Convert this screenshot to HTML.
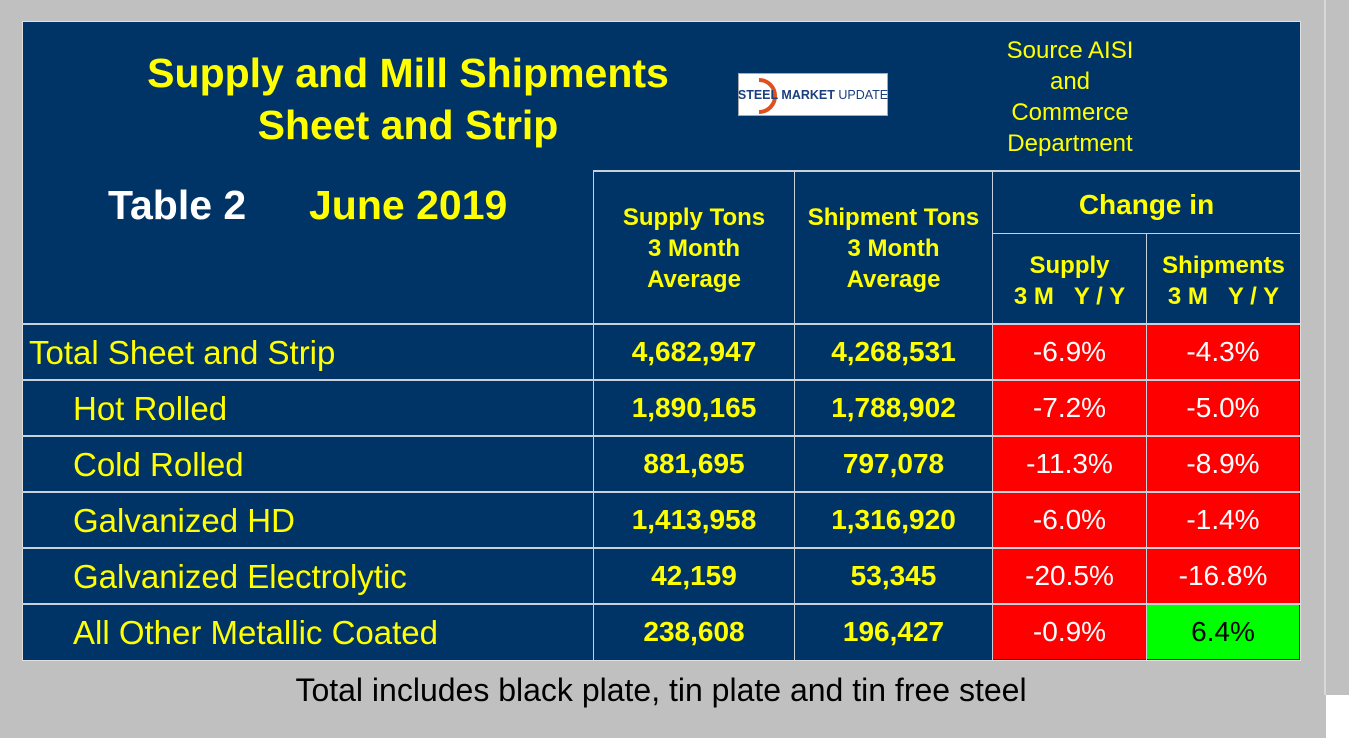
<!DOCTYPE html>
<html><head><meta charset="utf-8"><style>
body{margin:0;width:1349px;height:738px;background:#c0c0c0;position:relative;overflow:hidden;font-family:"Liberation Sans",Arial,sans-serif}
div{position:absolute;box-sizing:border-box}
.c{display:flex;align-items:center;justify-content:center;text-align:center}
.y{color:#ffff00}
.b{font-weight:bold}
.ln{background:#c8d0dc}
</style></head><body>
<div style="left:1326px;top:695px;width:23px;height:43px;background:#fff"></div>
<div style="left:1324px;top:0;width:2px;height:695px;background:#d8d8d8"></div>
<div style="left:22px;top:21px;width:1279px;height:640px;background:#003366;border:1px solid #e0e0e0"></div>
<div class="y b c" style="left:80px;top:47px;width:656px;height:104px;font-size:41px;line-height:52px;white-space:nowrap">Supply and Mill Shipments<br>Sheet and Strip</div>
<div style="left:738px;top:73px;width:150px;height:43px;background:#fff;border:1px solid #aaa">
 <svg width="150" height="43" style="position:absolute;left:0;top:0"><path d="M20 6 A16 16 0 1 1 20 38" fill="none" stroke="#e0501c" stroke-width="4"/></svg>
 <div class="c" style="left:0;top:0;width:148px;height:41px;font-size:12.5px;color:#1c3f7f;white-space:nowrap"><b>STEEL MARKET</b>&nbsp;UPDATE</div>
</div>
<div class="y c" style="left:970px;top:35px;width:200px;height:124px;font-size:24px;line-height:31px">Source AISI<br>and<br>Commerce<br>Department</div>
<div class="b" style="left:108px;top:182px;font-size:41px;color:#fff">Table 2</div>
<div class="b y" style="left:309px;top:182px;font-size:41px">June 2019</div>
<div class="ln" style="left:593px;top:170px;width:707px;height:2px"></div>
<div class="ln" style="left:992px;top:233px;width:308px;height:1px"></div>
<div class="ln" style="left:593px;top:170px;width:1px;height:490px"></div>
<div class="ln" style="left:794px;top:170px;width:1px;height:490px"></div>
<div class="ln" style="left:992px;top:170px;width:1px;height:490px"></div>
<div class="ln" style="left:1146px;top:233px;width:1px;height:427px"></div>
<div class="y b c" style="left:594px;top:200px;width:200px;height:96px;font-size:24px;line-height:31px;white-space:nowrap">Supply Tons<br>3 Month<br>Average</div>
<div class="y b c" style="left:795px;top:200px;width:197px;height:96px;font-size:24px;line-height:31px;white-space:nowrap">Shipment Tons<br>3 Month<br>Average</div>
<div class="y b c" style="left:993px;top:174px;width:307px;height:61px;font-size:28px">Change in</div>
<div class="y b c" style="left:993px;top:249px;width:153px;height:64px;font-size:24px;line-height:31px;white-space:nowrap">Supply<br>3 M&nbsp;&nbsp;&nbsp;Y / Y</div>
<div class="y b c" style="left:1147px;top:249px;width:153px;height:64px;font-size:24px;line-height:31px;white-space:nowrap">Shipments<br>3 M&nbsp;&nbsp;&nbsp;Y / Y</div>
<div id="rows"></div>
<div class="c" style="left:0;top:670px;width:1322px;height:40px;font-size:32px;color:#000;white-space:nowrap">Total includes black plate, tin plate and tin free steel</div>
<script>
const labels=["Total Sheet and Strip","Hot Rolled","Cold Rolled","Galvanized HD","Galvanized Electrolytic","All Other Metallic Coated"];
const supply=["4,682,947","1,890,165","881,695","1,413,958","42,159","238,608"];
const ship=["4,268,531","1,788,902","797,078","1,316,920","53,345","196,427"];
const chSupply=[-6.9,-7.2,-11.3,-6.0,-20.5,-0.9];
const chShip=[-4.3,-5.0,-8.9,-1.4,-16.8,6.4];
const R=document.getElementById('rows');
function mk(name,style,cls,txt){const d=document.createElement('div');d.style.cssText=style;if(cls)d.className=cls;d.textContent=txt||'';


R.appendChild(d);return d;}
labels.forEach((l,i)=>{
 const t=323+i*56,h=56;
 mk('row-line','left:22px;top:'+t+'px;width:1278px;height:2px;','ln');
 mk('row-label',`left:${i?73:29}px;top:${t+2}px;height:${h}px;font-size:33px;display:flex;align-items:center;white-space:nowrap`,'y',l);
 mk('supply-value',`left:594px;top:${t+1}px;width:200px;height:${h}px;font-size:28px`,'y b c',supply[i]);
 mk('shipment-value',`left:795px;top:${t+1}px;width:197px;height:${h}px;font-size:28px`,'y b c',ship[i]);
 const a=chSupply[i],b=chShip[i];
 mk('supply-change',`left:993px;top:${t+2}px;width:153px;height:${h-2}px;font-size:28px;background:${a<0?'#ff0000':'#00ff00'};color:${a<0?'#fff':'#000'}`,'c',a.toFixed(1)+'%');
 mk('shipment-change',`left:1147px;top:${t+2}px;width:152px;height:${h-2}px;font-size:28px;background:${b<0?'#ff0000':'#00ff00'};color:${b<0?'#fff':'#000'}`,'c',b.toFixed(1)+'%');
});
</script>
</body></html>
